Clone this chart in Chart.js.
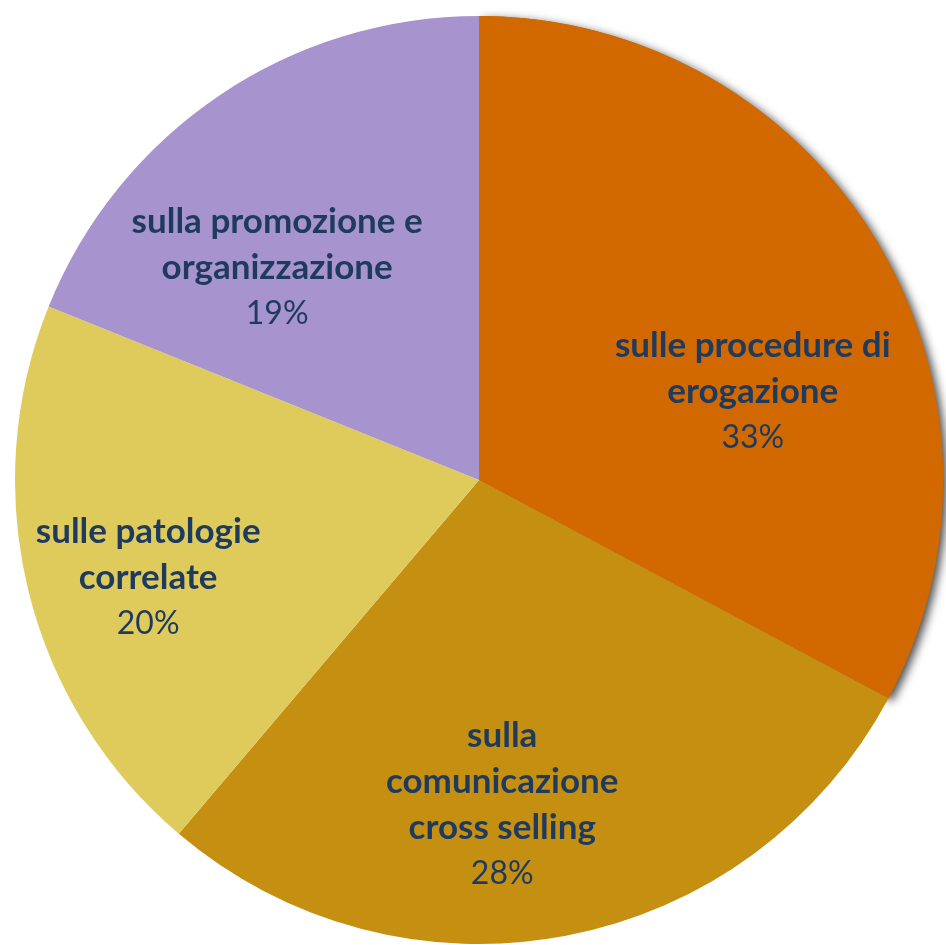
<!DOCTYPE html>
<html>
<head>
<meta charset="utf-8">
<script src="https://cdn.jsdelivr.net/npm/chart.js@4"></script>
<style>
  html, body { margin: 0; padding: 0; background: #ffffff; }
  #wrap { width: 946px; height: 945px; }
</style>
</head>
<body>
<div id="wrap"><canvas id="myChart" width="946" height="945"></canvas></div>
<script>
// pie data (labels show the rounded share)
const labels = [
    ['sulle procedure di', 'erogazione'],
    ['sulla', 'comunicazione', 'cross selling'],
    ['sulle patologie', 'correlate'],
    ['sulla promozione e', 'organizzazione']
];
const values = [32.8, 28.4, 19.9, 18.9];
const colors = ['#D16800', '#C59012', '#DFCB5C', '#A793CD'];

// label block centre, as fraction of the radius from the pie centre
const labelSpots = [[0.59, -0.19], [0.05, 0.70], [-0.713, 0.21], [-0.435, -0.457]];

// soft shadow behind the first slice only
const sliceShadow = {
    id: 'sliceShadow',
    beforeDatasetsDraw(chart) {
        const arc = chart.getDatasetMeta(0).data[0];
        const p = arc.getProps(['x', 'y', 'startAngle', 'endAngle', 'outerRadius']);
        const ctx = chart.ctx;
        ctx.save();
        ctx.shadowColor = 'rgba(0,0,0,0.7)';
        ctx.shadowBlur = 10;
        ctx.shadowOffsetX = 4;
        ctx.shadowOffsetY = 3;
        ctx.fillStyle = colors[0];
        ctx.beginPath();
        ctx.moveTo(p.x, p.y);
        ctx.arc(p.x, p.y, p.outerRadius, p.startAngle, p.endAngle);
        ctx.closePath();
        ctx.fill();
        ctx.restore();
    }
};

// text labels inside the slices
const sliceLabels = {
    id: 'sliceLabels',
    afterDatasetsDraw(chart) {
        const meta = chart.getDatasetMeta(0);
        const ctx = chart.ctx;
        ctx.save();
        ctx.fillStyle = '#1E3A5F';
        ctx.textAlign = 'center';
        ctx.textBaseline = 'middle';
        meta.data.forEach((arc, i) => {
            const p = arc.getProps(['x', 'y', 'outerRadius']);
            const cx = p.x + labelSpots[i][0] * p.outerRadius;
            const cy = p.y + labelSpots[i][1] * p.outerRadius;
            const lines = labels[i].concat([Math.round(values[i]) + '%']);
            const lh = 46;
            const top = cy - (lines.length - 1) * lh / 2;
            lines.forEach((t, j) => {
                const last = j === lines.length - 1;
                ctx.font = last ? '32px Lato' : 'bold 35px Lato';
                ctx.fillText(t, cx, top + j * lh);
            });
        });
        ctx.restore();
    }
};

const ctx = document.getElementById('myChart');
new Chart(ctx, {
    type: 'pie',
    data: {
        labels: labels.map(l => l.join(' ')),
        datasets: [{
            data: values,
            backgroundColor: colors,
            borderWidth: 0
        }]
    },
    options: {
        responsive: false,
        animation: false,
        layout: { padding: { left: 15, right: 3, top: 16, bottom: 1 } },
        plugins: {
            legend: { display: false },
            tooltip: { enabled: false }
        }
    },
    plugins: [sliceShadow, sliceLabels]
});
</script>
</body>
</html>
